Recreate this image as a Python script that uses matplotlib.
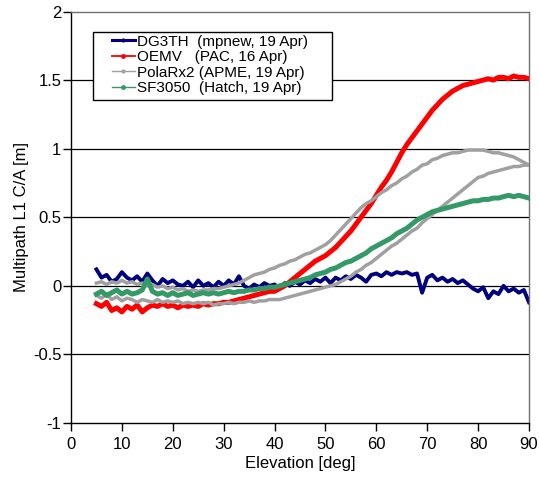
import matplotlib
matplotlib.use("Agg")
import matplotlib.pyplot as plt
from matplotlib.lines import Line2D
from matplotlib.patches import Rectangle

plt.rcParams["font.family"] = ["Liberation Sans", "DejaVu Sans"]

# -- Data --------------------------------------------------------------------
elev = list(range(5, 91))

dg3th = [0.12, 0.06, 0.08, 0.03, 0.05, 0.10, 0.06, 0.04, 0.07, 0.03,
         0.09, 0.04, 0.00, 0.05, 0.02, 0.04, 0.01, 0.00, 0.03, -0.01,
         0.04, 0.00, 0.02, -0.01, 0.03, 0.00, 0.04, 0.01, 0.07, 0.00,
         -0.02, 0.01, -0.01, 0.02, 0.00, 0.01, -0.02, 0.02, 0.00, 0.03,
         0.01, 0.04, 0.02, 0.05, 0.03, 0.06, 0.02, 0.06, 0.04, 0.07,
         0.05, 0.08, 0.06, 0.03, 0.08, 0.09, 0.07, 0.10, 0.08, 0.10,
         0.09, 0.10, 0.08, 0.09, -0.05, 0.06, 0.08, 0.04, 0.06, 0.03,
         0.05, 0.02, 0.04, 0.01, -0.02, -0.04, -0.01, -0.09, -0.04, -0.06,
         0.00, -0.04, -0.02, -0.05, -0.03, -0.12]

oemv = [-0.13, -0.15, -0.12, -0.18, -0.16, -0.19, -0.15, -0.17, -0.14, -0.19,
        -0.16, -0.14, -0.15, -0.13, -0.15, -0.14, -0.16, -0.14, -0.15, -0.14,
        -0.15, -0.13, -0.14, -0.13, -0.13, -0.12, -0.12, -0.11, -0.10, -0.09,
        -0.08, -0.07, -0.06, -0.05, -0.04, -0.04, -0.02, 0.00, 0.03, 0.06,
        0.09, 0.12, 0.15, 0.18, 0.20, 0.22, 0.25, 0.28, 0.32, 0.36,
        0.40, 0.45, 0.50, 0.55, 0.60, 0.66, 0.72, 0.77, 0.83, 0.90,
        0.97, 1.03, 1.08, 1.13, 1.18, 1.23, 1.28, 1.32, 1.36, 1.39,
        1.42, 1.44, 1.46, 1.47, 1.48, 1.49, 1.50, 1.51, 1.50, 1.52,
        1.52, 1.51, 1.53, 1.52, 1.52, 1.51]

# PolaRx2 traces a loop: rising branch and setting branch
polarx_a = [0.02, 0.03, 0.01, 0.03, 0.02, 0.04, 0.02, 0.03, 0.01, 0.02,
            0.00, 0.01, -0.01, 0.00, -0.02, -0.01, -0.03, -0.02, -0.04, -0.03,
            -0.04, -0.03, -0.03, -0.02, -0.02, -0.01, 0.00, 0.01, 0.02, 0.04,
            0.06, 0.08, 0.09, 0.10, 0.12, 0.13, 0.15, 0.16, 0.18, 0.19,
            0.21, 0.23, 0.24, 0.26, 0.28, 0.30, 0.33, 0.37, 0.41, 0.45,
            0.49, 0.53, 0.57, 0.60, 0.62, 0.65, 0.68, 0.70, 0.73, 0.75,
            0.78, 0.80, 0.83, 0.85, 0.88, 0.89, 0.92, 0.93, 0.95, 0.96,
            0.97, 0.97, 0.98, 0.99, 0.99, 0.99, 0.99, 0.98, 0.97, 0.97,
            0.96, 0.95, 0.94, 0.92, 0.90, 0.88]

polarx_b = [-0.07, -0.09, -0.06, -0.10, -0.08, -0.11, -0.09, -0.10, -0.12, -0.10,
            -0.11, -0.12, -0.10, -0.12, -0.11, -0.12, -0.11, -0.13, -0.12, -0.13,
            -0.12, -0.13, -0.12, -0.14, -0.13, -0.13, -0.12, -0.13, -0.12, -0.12,
            -0.11, -0.12, -0.11, -0.11, -0.10, -0.10, -0.10, -0.09, -0.08, -0.07,
            -0.06, -0.05, -0.04, -0.03, -0.02, -0.01, 0.00, 0.01, 0.03, 0.05,
            0.07, 0.10, 0.12, 0.15, 0.17, 0.20, 0.23, 0.26, 0.29, 0.31,
            0.34, 0.37, 0.40, 0.42, 0.46, 0.49, 0.52, 0.55, 0.58, 0.61,
            0.64, 0.67, 0.70, 0.73, 0.76, 0.79, 0.80, 0.82, 0.83, 0.84,
            0.85, 0.86, 0.87, 0.87, 0.88, 0.88]

sf3050 = [-0.06, -0.04, -0.07, -0.05, -0.03, -0.06, -0.04, -0.06, -0.05, -0.03,
          0.05, -0.04, -0.06, -0.05, -0.07, -0.05, -0.07, -0.06, -0.05, -0.07,
          -0.06, -0.05, -0.06, -0.05, -0.06, -0.05, -0.04, -0.05, -0.04, -0.04,
          -0.03, -0.03, -0.02, -0.02, -0.01, -0.01, 0.00, 0.01, 0.02, 0.03,
          0.04, 0.05, 0.06, 0.08, 0.09, 0.10, 0.12, 0.13, 0.15, 0.17,
          0.18, 0.20, 0.22, 0.24, 0.27, 0.29, 0.31, 0.33, 0.35, 0.38,
          0.40, 0.42, 0.45, 0.48, 0.50, 0.52, 0.54, 0.55, 0.56, 0.57,
          0.58, 0.59, 0.60, 0.61, 0.62, 0.62, 0.63, 0.63, 0.64, 0.64,
          0.65, 0.66, 0.65, 0.66, 0.65, 0.64]

labels = ["DG3TH  (mpnew, 19 Apr)", "OEMV   (PAC, 16 Apr)",
          "PolaRx2 (APME, 19 Apr)", "SF3050  (Hatch, 19 Apr)"]

NAVY = "#000080"
RED = "#FF0000"
GRAY = "#A0A0A0"
GREEN = "#339966"

# -- Figure -----------------------------------------------------------------
fig = plt.figure(figsize=(5.39, 4.86), dpi=100)
ax = fig.add_axes([0.1317, 0.1296, 0.8497, 0.8467])

for yv in [-0.5, 0, 0.5, 1, 1.5]:
    ax.axhline(yv, color="black", lw=0.9, zorder=1)

ax.plot(elev, dg3th, color=NAVY, lw=2.8, zorder=2, solid_joinstyle="round")
ax.plot(elev, oemv, color=RED, lw=3.6, zorder=3, solid_joinstyle="round")
ax.plot(elev, polarx_a, color=GRAY, lw=2.5, zorder=4, solid_joinstyle="round")
ax.plot(elev, polarx_b, color=GRAY, lw=2.5, zorder=4, solid_joinstyle="round")
ax.plot(elev, sf3050, color=GREEN, lw=3.6, zorder=5, solid_joinstyle="round")

ax.set_xlim(0, 90)
ax.set_ylim(-1, 2)
ax.set_xticks(range(0, 91, 10))
ax.set_yticks([-1, -0.5, 0, 0.5, 1, 1.5, 2])
ax.set_yticklabels(["-1", "-0.5", "0", "0.5", "1", "1.5", "2"])
ax.tick_params(direction="out", length=5.5, width=1, labelsize=12,
               color="black")
ax.tick_params(axis="x", pad=4.5)
ax.tick_params(axis="y", pad=1.5)

for side in ["left", "bottom"]:
    ax.spines[side].set_color("black")
    ax.spines[side].set_linewidth(1.0)
for side in ["top", "right"]:
    ax.spines[side].set_color("#707070")
    ax.spines[side].set_linewidth(1.0)

ax.set_xlabel("Elevation [deg]", fontsize=12, labelpad=3)
ax.set_ylabel("Multipath L1 C/A [m]", fontsize=12, labelpad=3)

# -- Legend: white box plus entries ------------------------------------------
ax.add_patch(Rectangle((0.0474, 0.786), 0.5218, 0.1654,
                       transform=ax.transAxes, facecolor="white",
                       edgecolor="black", lw=1.0, zorder=9))

handles = [
    Line2D([], [], color=NAVY, lw=2.2, marker=".", markersize=4),
    Line2D([], [], color=RED, lw=1.3, marker=".", markersize=5),
    Line2D([], [], color=GRAY, lw=1.0, marker=".", markersize=4),
    Line2D([], [], color=GREEN, lw=1.0, marker=".", markersize=5),
]
leg = ax.legend(handles, labels, loc="upper left",
                bbox_to_anchor=(0.0895, 0.944), borderaxespad=0,
                fontsize=11, frameon=False,
                handlelength=1.5, handletextpad=0.15, labelspacing=0.1,
                borderpad=0)
leg.set_zorder(10)

fig.savefig("out.png", dpi=100, facecolor="white")
